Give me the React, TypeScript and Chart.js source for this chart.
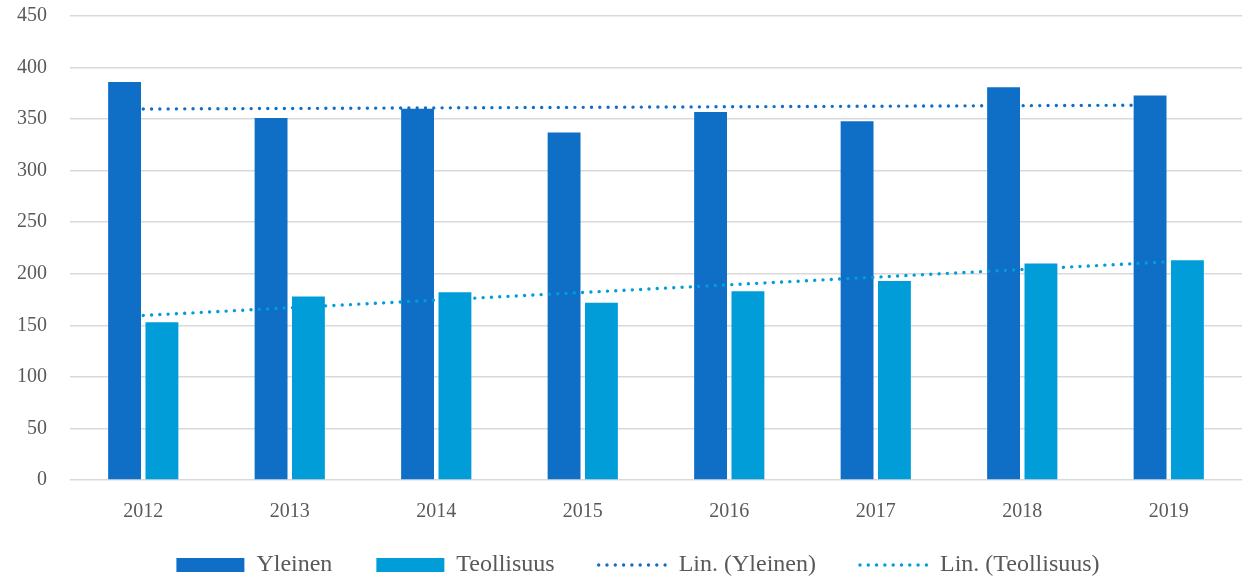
import React, { useEffect, useRef } from "react";
import { Chart, registerables } from "chart.js";

Chart.register(...registerables);

const years = ["2012", "2013", "2014", "2015", "2016", "2017", "2018", "2019"];
const yleinen = [386, 351, 360, 337, 357, 348, 381, 373];
const teollisuus = [153, 178, 182, 172, 183, 193, 210, 213];
const trendYleinen = [359.8, null, null, null, null, null, null, 363.6];
const trendTeollisuus = [159.6, null, null, null, null, null, null, 211.6];
const yTicks = [0, 50, 100, 150, 200, 250, 300, 350, 400, 450];

const C_YLEINEN = "#0F6FC6";
const C_TEOLL = "#009DD9";
const TEXT = "#595959";
const FONT = "'Liberation Serif', 'DejaVu Serif', serif";
const DOTS = [0.001, 8.3];
const LEGEND_PAD = 44;

const legendShift = {
  id: "legendShift",
  afterLayout(chart: any) {
    const lg = chart.legend;
    if (!lg) return;
    lg.top = 565 - 12 - LEGEND_PAD;
    lg.bottom = chart.height;
    lg.height = lg.bottom - lg.top;
    lg.left += 8.5;
    lg.right += 8.5;
  },
};

export default function App() {
  const ref = useRef<HTMLCanvasElement | null>(null);

  useEffect(() => {
    document.body.style.margin = "0";
    document.body.style.overflow = "hidden";
    const canvas = ref.current;
    if (!canvas) return;
    const chart = new Chart(canvas, {
      type: "bar",
      data: {
        labels: years,
        datasets: [
          {
            type: "bar",
            label: "Yleinen",
            data: yleinen,
            backgroundColor: C_YLEINEN,
            order: 2,
            categoryPercentage: 0.51,
            barPercentage: 0.88,
          },
          {
            type: "bar",
            label: "Teollisuus",
            data: teollisuus,
            backgroundColor: C_TEOLL,
            order: 2,
            categoryPercentage: 0.51,
            barPercentage: 0.88,
          },
          {
            type: "line",
            label: "Lin. (Yleinen)",
            data: trendYleinen,
            borderColor: C_YLEINEN,
            borderWidth: 3.4,
            borderDash: DOTS,
            borderCapStyle: "round",
            pointRadius: 0,
            spanGaps: true,
            fill: false,
            order: 1,
          },
          {
            type: "line",
            label: "Lin. (Teollisuus)",
            data: trendTeollisuus,
            borderColor: C_TEOLL,
            borderWidth: 3.4,
            borderDash: DOTS,
            borderCapStyle: "round",
            pointRadius: 0,
            spanGaps: true,
            fill: false,
            order: 1,
          },
        ] as any,
      },
      options: {
        responsive: false,
        animation: false,
        layout: { padding: { left: 17, right: 0, top: 16, bottom: 0 } },
        plugins: {
          tooltip: { enabled: false },
          legend: {
            position: "bottom",
            maxHeight: 52,
            labels: {
              usePointStyle: true,
              pointStyleWidth: 68,
              boxWidth: 68,
              boxHeight: 14,
              padding: LEGEND_PAD,
              color: TEXT,
              font: { family: FONT, size: 24 },
              generateLabels: () => [
                { text: "Yleinen", fillStyle: C_YLEINEN, strokeStyle: C_YLEINEN, lineWidth: 0, pointStyle: "rect", datasetIndex: 0, fontColor: TEXT },
                { text: "Teollisuus", fillStyle: C_TEOLL, strokeStyle: C_TEOLL, lineWidth: 0, pointStyle: "rect", datasetIndex: 1, fontColor: TEXT },
                { text: "Lin. (Yleinen)", fillStyle: C_YLEINEN, strokeStyle: C_YLEINEN, lineWidth: 3.4, lineDash: DOTS, lineCap: "round", pointStyle: "line", datasetIndex: 2, fontColor: TEXT },
                { text: "Lin. (Teollisuus)", fillStyle: C_TEOLL, strokeStyle: C_TEOLL, lineWidth: 3.4, lineDash: DOTS, lineCap: "round", pointStyle: "line", datasetIndex: 3, fontColor: TEXT },
              ] as any,
            },
          },
        },
        scales: {
          x: {
            grid: { display: false, drawTicks: true, tickLength: 20, tickColor: "rgba(0,0,0,0)" },
            border: { display: false },
            ticks: { color: TEXT, font: { family: FONT, size: 20 }, padding: 0, maxRotation: 0 },
          },
          y: {
            min: 0,
            max: 450,
            afterBuildTicks: (s: any) => {
              s.ticks = yTicks.map((v) => ({ value: v }));
            },
            grid: { color: "#D9D9D9", lineWidth: 1.5, drawTicks: true, tickLength: 23, tickColor: "rgba(0,0,0,0)" },
            border: { display: false },
            ticks: { color: TEXT, font: { family: FONT, size: 20 }, padding: 0 },
          },
        },
      } as any,
      plugins: [legendShift],
    });
    return () => chart.destroy();
  }, []);

  return (
    <div style={{ width: 1242, height: 576 }}>
      <canvas ref={ref} width={1242} height={576} style={{ display: "block" }} />
    </div>
  );
}
